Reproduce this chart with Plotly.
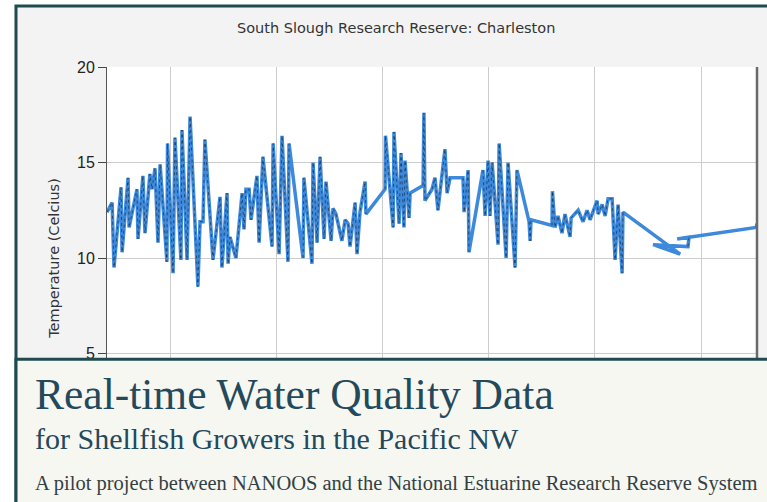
import plotly.graph_objects as go

W, H = 767, 502

# ---- data ----
days = [0.00, 0.24, 0.33, 0.66, 0.71, 0.99, 1.04, 1.41, 1.46, 1.69, 1.79, 2.02, 2.12, 2.26, 2.40, 2.50,
        2.82, 2.85, 3.11, 3.20, 3.48, 3.53, 3.77, 3.91, 4.28, 4.38, 4.52, 4.61, 4.99, 5.32, 5.41, 5.65,
        5.70, 5.79, 6.07, 6.36, 6.45, 6.54, 6.69, 6.78, 7.06, 7.16, 7.34, 7.77, 7.82, 8.10, 8.24, 8.52,
        8.57, 9.23, 9.27, 9.65, 9.70, 9.89, 10.03, 10.22, 10.31, 10.55, 10.64, 10.78, 11.06, 11.21, 11.35,
        11.44, 11.68, 11.77, 11.91, 12.15, 12.19, 13.09, 13.11, 13.47, 13.51, 13.75, 13.84, 13.98, 14.03,
        14.22, 14.27, 14.88, 14.92, 14.97, 15.30, 15.44, 15.58, 15.91, 16.01, 16.15, 16.76, 16.81, 17.00,
        17.04, 17.70, 17.80, 17.94, 18.03, 18.13, 18.41, 18.46, 18.79, 18.88, 19.21, 19.30, 19.87, 19.92,
        19.96, 20.95, 20.97, 21.09, 21.23, 21.42, 21.56, 21.80, 21.85, 22.18, 22.41, 22.60, 22.74, 23.07,
        23.12, 23.31, 23.45, 23.59, 23.78, 23.92, 24.06, 24.25, 24.29, 26.98, 25.71, 27.35, 27.40, 26.84,
        30.56, 30.60]
temps = [12.4, 12.9, 9.5, 13.7, 10.3, 14.2, 11.6, 13.6, 11.0, 14.3, 11.3, 14.4, 13.6, 14.7, 10.8, 14.9,
         9.8, 16.0, 9.2, 16.3, 9.9, 16.7, 9.9, 17.4, 8.5, 11.9, 11.9, 16.2, 9.9, 13.2, 9.5, 13.4,
         9.7, 11.1, 10.0, 13.4, 11.5, 13.6, 13.6, 12.0, 14.3, 10.8, 15.3, 10.6, 16.0, 10.2, 16.4, 9.8,
         16.0, 10.0, 14.2, 9.7, 15.0, 10.8, 15.3, 11.0, 14.0, 10.9, 12.6, 12.3, 10.9, 12.0, 11.8,
         10.6, 12.9, 10.2, 12.4, 14.0, 12.3, 13.6, 16.4, 11.6, 16.6, 11.8, 15.5, 11.6, 15.1,
         12.1, 13.4, 13.8, 17.6, 13.0, 13.6, 14.2, 12.5, 15.7, 13.4, 14.2, 14.2, 12.4, 14.6,
         10.3, 14.6, 12.2, 15.1, 12.2, 15.0, 10.7, 16.0, 10.0, 15.0, 9.5, 14.6, 11.9, 10.9,
         12.0, 11.7, 13.5, 11.6, 12.2, 11.3, 12.3, 11.1, 12.1, 12.5, 11.9, 12.5, 12.0, 13.0,
         12.3, 12.8, 12.2, 13.1, 13.1, 9.9, 12.8, 9.2, 12.4, 10.2, 10.7, 10.6, 11.1, 11.0,
         11.6, 11.8]

y_ticks = [5, 10, 15, 20]
chart_title = "South Slough Research Reserve: Charleston"
y_title = "Temperature (Celcius)"
banner_title = "Real-time Water Quality Data"
banner_sub = "for Shellfish Growers in the Pacific NW"
banner_note = "A pilot project between NANOOS and the National Estuarine Research Reserve System"

# dotted overlay only where samples are dense (break across long gaps)
dot_x, dot_y = [], []
for i, (d, t) in enumerate(zip(days, temps)):
    if i > 0 and abs(d - days[i - 1]) > 0.55:
        dot_x.append(None)
        dot_y.append(None)
    dot_x.append(d)
    dot_y.append(t)

TEAL = "#1f4a50"
ML, MR, MT, MB = 107, 10, 67.3, 53.3
PW, PH = W - ML - MR, H - MT - MB


def px(x):
    return (x - ML) / PW


def py(y):
    return (H - MB - y) / PH


fig = go.Figure()
fig.add_trace(go.Scatter(x=days, y=temps, mode="lines",
                         line=dict(color="#3d89dc", width=3.5), hoverinfo="skip"))
fig.add_trace(go.Scatter(x=dot_x, y=dot_y, mode="lines", connectgaps=False,
                         line=dict(color="rgba(0,0,0,0.45)", width=1, dash="dot"), hoverinfo="skip"))

shapes = [
    # white outside the chart frame
    dict(type="rect", xref="paper", yref="paper", x0=px(-5), x1=px(14.5), y0=py(510), y1=py(-5),
         fillcolor="white", line=dict(width=0), layer="below"),
    dict(type="rect", xref="paper", yref="paper", x0=px(-5), x1=px(775), y0=py(5.5), y1=py(-5),
         fillcolor="white", line=dict(width=0), layer="below"),
    # chart frame border
    dict(type="rect", xref="paper", yref="paper", x0=px(16), x1=px(790), y0=py(520), y1=py(6.5),
         fillcolor="rgba(0,0,0,0)", line=dict(color=TEAL, width=3), layer="below"),
    # right plot border
    dict(type="line", xref="x domain", yref="y domain", x0=1, x1=1, y0=0, y1=1,
         line=dict(color="#6a6a6a", width=2.5), layer="above"),
    # banner
    dict(type="rect", xref="paper", yref="paper", x0=px(16), x1=px(790), y0=py(520), y1=py(359),
         fillcolor="#f7f7f1", line=dict(color=TEAL, width=3), layer="above"),
]

annotations = [
    dict(text=chart_title, xref="paper", yref="paper", x=px(396), y=py(28), showarrow=False,
         xanchor="center", yanchor="middle", font=dict(family="DejaVu Sans", size=14.5, color="#333333")),
    dict(text=banner_title, xref="paper", yref="paper", x=px(33), y=py(394), showarrow=False,
         xanchor="left", yanchor="middle", font=dict(family="Liberation Serif", size=43.5, color="#23495c")),
    dict(text=banner_sub, xref="paper", yref="paper", x=px(33), y=py(438), showarrow=False,
         xanchor="left", yanchor="middle", font=dict(family="Liberation Serif", size=30, color="#23495c")),
    dict(text=banner_note, xref="paper", yref="paper", x=px(33), y=py(483), showarrow=False,
         xanchor="left", yanchor="middle", font=dict(family="Liberation Serif", size=20.5, color="#343f44")),
]

fig.update_layout(
    width=W, height=H,
    margin=dict(l=ML, r=MR, t=MT, b=MB, pad=0),
    paper_bgcolor="#f3f3f3",
    plot_bgcolor="white",
    showlegend=False,
    shapes=shapes,
    annotations=annotations,
    xaxis=dict(range=[0, 30.6], tick0=2.97, dtick=5, showgrid=True, gridcolor="#cccccc", gridwidth=1,
               showticklabels=False, ticks="", zeroline=False, showline=False, automargin=False),
    yaxis=dict(range=[0, 20], tickvals=y_ticks, showgrid=True, gridcolor="#cccccc", gridwidth=1,
               ticks="outside", ticklen=8, tickcolor="#444444", showline=True, linecolor="#555555",
               linewidth=1, zeroline=False, automargin=False,
               tickfont=dict(family="Liberation Sans", size=16, color="#222222"),
               title=dict(text=y_title, standoff=13,
                          font=dict(family="DejaVu Sans", size=14.5, color="#333333"))),
)

fig.write_html("out.html", config={"displayModeBar": False},
               post_script="document.body.style.margin='0';document.body.style.overflow='hidden';")
